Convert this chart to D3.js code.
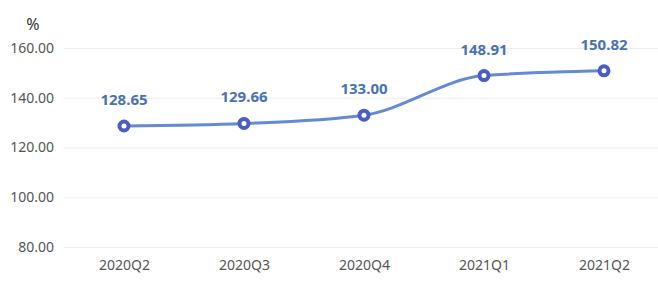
<!DOCTYPE html>
<html>
<head>
<meta charset="utf-8">
<script src="https://cdn.jsdelivr.net/npm/d3@7"></script>
<style>
    body { margin: 0; background: #fff; }
    svg { display: block; font-family: "Noto Sans", "DejaVu Sans", sans-serif; }
</style>
</head>
<body>
<div id="chart"></div>
<script>
// quarters and ratio values
var quarters = ['2020Q2', '2020Q3', '2020Q4', '2021Q1', '2021Q2'];
var ratios = [128.65, 129.66, 133.00, 148.91, 150.82];
var yTicks = [80, 100, 120, 140, 160];
var unitLabel = '%';

var width = 658;
var height = 292;
var margin = {top: 48, left: 64, right: -6, bottom: 45};

var svg = d3.select('#chart').append('svg')
    .attr('width', width)
    .attr('height', height);

var xScale = d3.scalePoint()
    .domain(quarters)
    .range([margin.left + 60, width - margin.right - 60]);

var yScale = d3.scaleLinear()
    .domain([80, 160])
    .range([height - margin.bottom, margin.top]);

// Grid lines
svg.append('g')
    .selectAll('line')
    .data(yTicks).enter()
    .append('line')
        .attr('x1', margin.left)
        .attr('x2', width - margin.right)
        .attr('y1', d => yScale(d) + 0.5)
        .attr('y2', d => yScale(d) + 0.5)
        .attr('stroke', '#eeeeee')
        .attr('stroke-width', 1);

// Y-axis labels
var yAxis = svg.append('g')
    .attr('transform', 'translate(' + (margin.left - 10) + ',0)')
    .call(d3.axisLeft(yScale).tickValues(yTicks).tickFormat(d3.format('.2f')).tickSize(0).tickPadding(0));
yAxis.select('.domain').remove();
yAxis.selectAll('text')
    .attr('fill', '#555')
    .attr('font-size', 14)
    .attr('font-family', '"Noto Sans", sans-serif');

svg.append('text')
    .attr('x', 33)
    .attr('y', 30)
    .attr('text-anchor', 'middle')
    .attr('fill', '#333')
    .attr('font-size', 16)
    .text(unitLabel);

// X-axis labels
var xAxis = svg.append('g')
    .attr('transform', 'translate(0,' + (height - margin.bottom) + ')')
    .call(d3.axisBottom(xScale).tickSize(0).tickPadding(13));
xAxis.select('.domain').remove();
xAxis.selectAll('text')
    .attr('fill', '#555')
    .attr('font-size', 14)
    .attr('font-family', '"Noto Sans", sans-serif');

// Line
var plotLine = d3.line()
    .x((d, i) => xScale(quarters[i]))
    .y(d => yScale(d))
    .curve(d3.curveMonotoneX);

svg.append('path')
    .datum(ratios)
    .attr('fill', 'none')
    .attr('stroke', '#658ad0')
    .attr('stroke-width', 3)
    .attr('d', plotLine);

// Points
svg.selectAll('.point')
    .data(ratios).enter()
    .append('circle')
        .attr('class', 'point')
        .attr('cx', (d, i) => xScale(quarters[i]))
        .attr('cy', d => yScale(d))
        .attr('r', 4.5)
        .attr('fill', '#fff')
        .attr('stroke', '#4a5dc5')
        .attr('stroke-width', 4);

// Value labels
svg.selectAll('.val')
    .data(ratios).enter()
    .append('text')
        .attr('class', 'val')
        .attr('x', (d, i) => xScale(quarters[i]))
        .attr('y', d => yScale(d) - 21)
        .attr('text-anchor', 'middle')
        .attr('fill', '#4a72b0')
        .attr('font-size', 15)
        .attr('font-weight', 'bold')
        .text(d => d.toFixed(2));
</script>
</body>
</html>
